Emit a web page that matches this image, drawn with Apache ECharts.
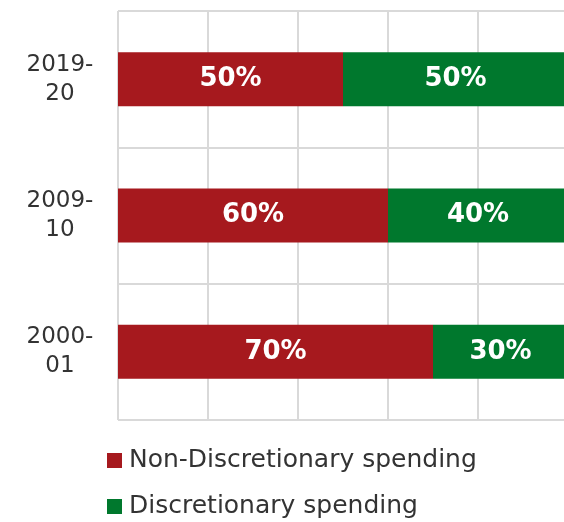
<!DOCTYPE html>
<html>
<head>
<meta charset="utf-8">
<style>
  html, body { margin: 0; padding: 0; background: #ffffff; overflow: hidden; }
  #chart { width: 570px; height: 522px; }
</style>
<script src="https://cdn.jsdelivr.net/npm/echarts@6/dist/echarts.min.js"></script>
</head>
<body>
<div id="chart"></div>
<script>
// Fiscal years, bottom to top
const years = ['2000-\n01', '2009-\n10', '2019-\n20'];
// Share of spending, per cent
const nonDiscretionary = [70, 60, 50];
const discretionary = [30, 40, 50];
const seriesNames = ['Non-Discretionary spending', 'Discretionary spending'];
const xTicks = [0, 20, 40, 60, 80, 100];

const FONT = '"DejaVu Sans", sans-serif';
const RED = '#A6191E';
const GREEN = '#00782D';
const GRID = '#d9d9d9';

const chart = echarts.init(document.getElementById('chart'), null, { renderer: 'canvas' });

const barLabel = {
  show: true,
  position: 'inside',
  color: '#ffffff',
  fontFamily: FONT,
  fontWeight: 'bold',
  fontSize: 26,
  formatter: p => p.value + '%'
};

chart.setOption({
  animation: false,
  backgroundColor: '#ffffff',
  // plot runs slightly past the right edge of the visible page
  grid: { left: 118, top: 11, width: 450, height: 409, containLabel: false },
  xAxis: {
    type: 'value',
    min: xTicks[0],
    max: xTicks[xTicks.length - 1],
    interval: xTicks[1] - xTicks[0],
    axisLine: { show: false },
    axisTick: { show: false },
    axisLabel: { show: false },
    splitLine: { show: true, lineStyle: { color: GRID, width: 2 } }
  },
  yAxis: {
    type: 'category',
    data: years,
    axisLine: { show: false },
    axisTick: { show: false },
    splitLine: { show: true, lineStyle: { color: GRID, width: 2 } },
    axisLabel: {
      align: 'center',
      margin: 58,
      fontFamily: FONT,
      fontSize: 23,
      lineHeight: 29,
      color: '#333333'
    }
  },
  legend: {
    orient: 'vertical',
    left: 107,
    top: 446,
    padding: 0,
    itemWidth: 15,
    itemHeight: 15,
    itemGap: 17,
    icon: 'rect',
    data: seriesNames,
    textStyle: { fontFamily: FONT, fontSize: 25, lineHeight: 29, color: '#333333', padding: [0, 0, 0, 2] }
  },
  series: [
    {
      name: seriesNames[0],
      type: 'bar',
      stack: 'total',
      barWidth: 54,
      itemStyle: { color: RED },
      label: barLabel,
      data: nonDiscretionary
    },
    {
      name: seriesNames[1],
      type: 'bar',
      stack: 'total',
      barWidth: 54,
      itemStyle: { color: GREEN },
      label: barLabel,
      data: discretionary
    }
  ]
});
</script>
</body>
</html>
